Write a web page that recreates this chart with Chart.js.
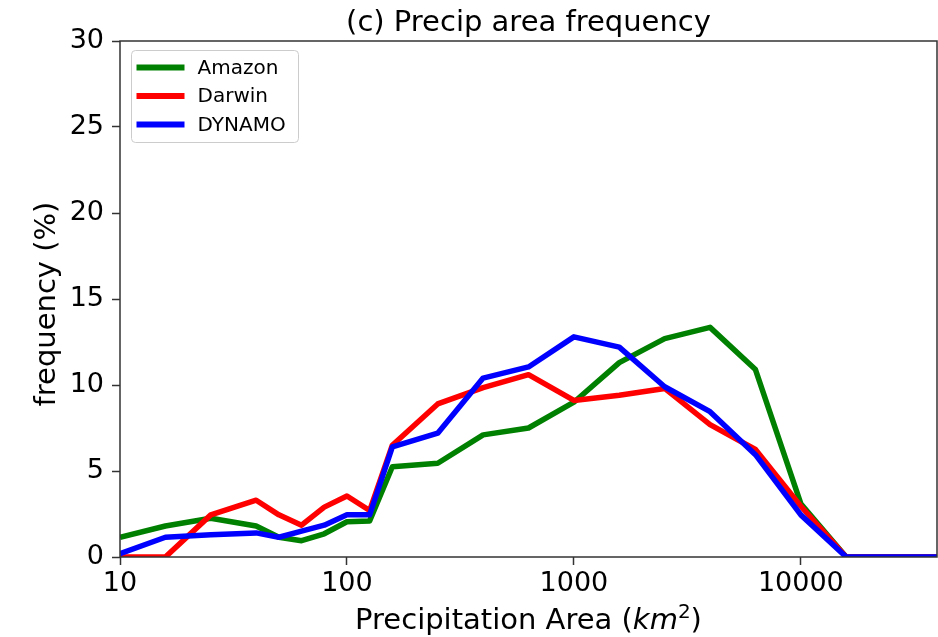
<!DOCTYPE html>
<html>
<head>
<meta charset="utf-8">
<title>Precip area frequency</title>
<script src="https://cdn.jsdelivr.net/npm/chart.js@4.4.1/dist/chart.umd.min.js"></script>
<style>
  html, body { margin: 0; padding: 0; background: #fff; }
  #wrap { width: 938px; height: 637px; }
</style>
</head>
<body>
<div id="wrap"><canvas id="chart" width="938" height="637"></canvas></div>
<script>
// ---------- data ----------
const areaBins = [10, 15.85, 25.12, 39.81, 50.12, 63.1, 79.43, 100, 125.9, 158.5, 251.2, 398.1,
                  631, 1000, 1585, 2512, 3981, 6310, 10000, 15850, 25120, 39810];
const amazonFreq = [1.15, 1.8, 2.25, 1.8, 1.15, 0.95, 1.35, 2.05, 2.1, 5.25, 5.45, 7.1,
                    7.5, 9.0, 11.3, 12.7, 13.35, 10.9, 3.1, 0, 0, 0];
const darwinFreq = [0, 0, 2.45, 3.3, 2.45, 1.85, 2.9, 3.55, 2.7, 6.5, 8.9, 9.85,
                    10.6, 9.1, 9.4, 9.8, 7.7, 6.25, 2.95, 0, 0, 0];
const dynamoFreq = [0.2, 1.15, 1.3, 1.4, 1.15, 1.5, 1.85, 2.45, 2.45, 6.4, 7.2, 10.4,
                    11.05, 12.8, 12.2, 9.9, 8.45, 5.95, 2.45, 0, 0, 0];
const seriesNames = ['Amazon', 'Darwin', 'DYNAMO'];
const seriesColors = ['#008000', '#ff0000', '#0000ff'];
const xTickValues = [10, 100, 1000, 10000];
const titleText = '(c) Precip area frequency';
const yLabelText = 'frequency (%)';

const FONT = '"DejaVu Sans", sans-serif';
const AXIS_COLOR = '#333';

function toPoints(values) {
  return areaBins.map((x, i) => ({ x: x, y: values[i] }));
}

// ---------- title, axis labels, frame and legend ----------
const decorations = {
  id: 'decorations',
  afterDatasetsDraw(chart) {
    const { ctx, chartArea: a } = chart;
    ctx.save();
    ctx.strokeStyle = AXIS_COLOR;
    ctx.lineWidth = 1.5;
    ctx.strokeRect(a.left, a.top, a.right - a.left, a.bottom - a.top);
    ctx.restore();
  },
  afterDraw(chart) {
    const { ctx, chartArea: a } = chart;
    const cx = (a.left + a.right) / 2;
    ctx.save();
    ctx.fillStyle = '#000';

    // title
    ctx.font = '29px ' + FONT;
    ctx.textAlign = 'center';
    ctx.textBaseline = 'alphabetic';
    ctx.fillText(titleText, cx, 31);

    // x label: "Precipitation Area (km^2)"
    const parts = [
      { t: 'Precipitation Area (', f: '29px ' + FONT, dy: 0 },
      { t: 'km', f: 'italic 29px ' + FONT, dy: 0 },
      { t: '2', f: '20px ' + FONT, dy: -11 },
      { t: ')', f: '29px ' + FONT, dy: 0 }
    ];
    let total = 0;
    parts.forEach(p => { ctx.font = p.f; p.w = ctx.measureText(p.t).width; total += p.w; });
    let x = cx - total / 2;
    ctx.textAlign = 'left';
    parts.forEach(p => { ctx.font = p.f; ctx.fillText(p.t, x, 629 + p.dy); x += p.w; });

    // y label
    ctx.save();
    ctx.translate(55, (a.top + a.bottom) / 2 + 5);
    ctx.rotate(-Math.PI / 2);
    ctx.font = '29px ' + FONT;
    ctx.textAlign = 'center';
    ctx.fillText(yLabelText, 0, 0);
    ctx.restore();

    // legend box
    const bx = a.left + 11.5, by = a.top + 9.5, bw = 167, bh = 92;
    ctx.beginPath();
    ctx.roundRect(bx, by, bw, bh, 4);
    ctx.fillStyle = 'rgba(255,255,255,0.8)';
    ctx.fill();
    ctx.strokeStyle = '#cccccc';
    ctx.lineWidth = 1;
    ctx.stroke();
    ctx.font = '20px ' + FONT;
    ctx.textBaseline = 'middle';
    seriesNames.forEach((name, i) => {
      const ry = by + 17 + i * 28.5;
      ctx.strokeStyle = seriesColors[i];
      ctx.lineWidth = 6;
      ctx.beginPath();
      ctx.moveTo(bx + 5, ry);
      ctx.lineTo(bx + 53, ry);
      ctx.stroke();
      ctx.fillStyle = '#000';
      ctx.fillText(name, bx + 66, ry + 1);
    });
    ctx.restore();
  }
};

const seriesValues = [amazonFreq, darwinFreq, dynamoFreq];

new Chart(document.getElementById('chart'), {
  type: 'line',
  data: {
    datasets: seriesNames.map((name, i) => ({
      label: name,
      data: toPoints(seriesValues[i]),
      borderColor: seriesColors[i],
      backgroundColor: seriesColors[i],
      borderWidth: 5.5,
      pointRadius: 0,
      tension: 0,
      fill: false,
      clip: 0,
      order: seriesNames.length - i,
      borderJoinStyle: 'round'
    }))
  },
  options: {
    responsive: false,
    devicePixelRatio: 1,
    animation: false,
    layout: { padding: { top: 41, right: 1, left: 0, bottom: 0 } },
    plugins: {
      legend: { display: false },
      title: { display: false },
      tooltip: { enabled: false }
    },
    scales: {
      x: {
        type: 'logarithmic',
        min: 10,
        max: 39810,
        afterBuildTicks: axis => { axis.ticks = xTickValues.map(v => ({ value: v })); },
        afterFit: axis => { axis.height = 80; },
        border: { display: false },
        grid: { drawOnChartArea: false, drawTicks: true, tickLength: 8, tickColor: AXIS_COLOR, tickWidth: 1.5 },
        ticks: {
          color: '#000',
          font: { family: FONT, size: 27 },
          padding: 3,
          maxRotation: 0,
          autoSkip: false,
          callback: v => String(v)
        }
      },
      y: {
        min: 0,
        max: 30,
        afterFit: axis => { axis.width = 120; },
        border: { display: false },
        grid: { drawOnChartArea: false, drawTicks: true, tickLength: 8, tickColor: AXIS_COLOR, tickWidth: 1.5 },
        ticks: {
          stepSize: 5,
          color: '#000',
          font: { family: FONT, size: 27 },
          padding: 8
        }
      }
    }
  },
  plugins: [decorations]
});
</script>
</body>
</html>
